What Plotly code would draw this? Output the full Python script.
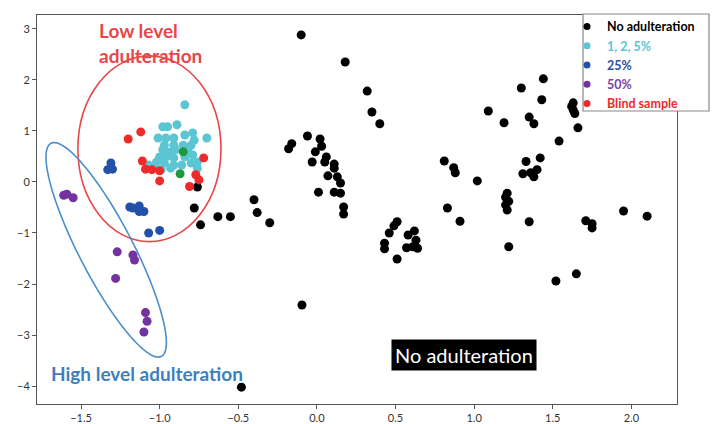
import numpy as np
import plotly.graph_objects as go

# ---------------- data ----------------
none_x = [-0.76, -0.78, -0.74, -0.63, -0.55, -0.40, -0.38, -0.30, -0.48, -0.095,
          -0.10, 0.18, 0.32, 0.35, 0.40,
          -0.06, -0.16, -0.18, 0.02, 0.03, -0.01, -0.03, 0.06, 0.05, 0.11, 0.11, 0.07, 0.13, 0.15, 0.01, 0.11, 0.15, 0.17, 0.17,
          0.51, 0.49, 0.46, 0.43, 0.43, 0.58, 0.62, 0.63, 0.57, 0.61, 0.64, 0.51,
          0.81, 0.87, 0.88, 1.02, 0.83, 0.91,
          1.44, 1.30, 1.43, 1.63, 1.62, 1.63, 1.64, 1.66, 1.09, 1.19, 1.35, 1.38, 1.54,
          1.33, 1.42, 1.31, 1.36, 1.38, 1.40,
          1.21, 1.20, 1.22, 1.20, 1.21,
          1.35, 1.22, 1.52, 1.65,
          1.95, 2.10, 1.71, 1.75, 1.75]
none_y = [-0.10, -0.51, -0.84, -0.68, -0.68, -0.35, -0.60, -0.80, -4.02, -2.41,
          2.88, 2.35, 1.78, 1.37, 1.14,
          0.90, 0.75, 0.65, 0.84, 0.70, 0.59, 0.39, 0.49, 0.39, 0.35, 0.27, 0.12, 0.10, -0.02, -0.20, -0.20, -0.22, -0.49, -0.63,
          -0.78, -0.86, -1.00, -1.20, -1.31, -1.04, -0.96, -1.14, -1.29, -1.27, -1.30, -1.51,
          0.41, 0.28, 0.18, 0.02, -0.51, -0.77,
          2.02, 1.84, 1.61, 1.55, 1.48, 1.41, 1.34, 1.06, 1.39, 1.16, 1.27, 1.14, 0.80,
          0.40, 0.47, 0.16, 0.18, 0.10, 0.24,
          -0.22, -0.30, -0.38, -0.45, -0.55,
          -0.78, -1.27, -1.94, -1.80,
          -0.57, -0.67, -0.76, -0.82, -0.90]

low_x = [-0.84, -0.98, -0.95, -0.89, -1.01, -0.96, -0.91, -0.84, -0.79, -0.70, -0.78,
         -0.97, -0.91, -0.85, -0.80, -0.98, -0.94, -0.90, -0.82, -1.00, -0.96, -0.91,
         -0.84, -0.79, -1.02, -0.97, -0.91, -0.86, -0.80, -0.76, -1.04, -0.99, -0.93,
         -0.76, -1.07]
low_y = [1.51, 1.08, 1.08, 1.12, 0.86, 0.86, 0.86, 0.92, 0.96, 0.86, 0.82,
         0.72, 0.72, 0.72, 0.72, 0.63, 0.58, 0.63, 0.63, 0.49, 0.49, 0.47,
         0.49, 0.53, 0.39, 0.37, 0.33, 0.33, 0.37, 0.39, 0.29, 0.24, 0.27,
         0.27, 0.33]

p25_x = [-1.31, -1.33, -1.30, -1.19, -1.17, -1.13, -1.10, -1.13, -1.07, -1.00]
p25_y = [0.37, 0.24, 0.25, -0.49, -0.51, -0.47, -0.58, -0.58, -1.00, -0.95]

p50_x = [-1.59, -1.55, -1.61, -1.27, -1.17, -1.16, -1.28, -1.09, -1.08, -1.10]
p50_y = [-0.24, -0.31, -0.26, -1.37, -1.43, -1.53, -1.89, -2.56, -2.73, -2.94]

blind_x = [-1.12, -1.20, -1.11, -1.09, -1.05, -1.00, -1.00, -0.72, -0.77, -0.75, -0.81]
blind_y = [0.98, 0.84, 0.41, 0.25, 0.24, 0.22, 0.02, 0.47, 0.14, 0.04, -0.09]

green_x = [-0.85, -0.87]
green_y = [0.59, 0.16]

series_names = ["No adulteration", "1, 2, 5%", "25%", "50%", "Blind sample"]

x_ticks = [-1.5, -1.0, -0.5, 0.0, 0.5, 1.0, 1.5, 2.0]
y_ticks = [-4, -3, -2, -1, 0, 1, 2, 3]

# ---------------- layout constants ----------------
W, H = 712, 424
ML, MR, MT, MB = 37, 35, 15, 20
XR = [-1.78, 2.29]
YR = [-4.35, 3.27]
PW, PH = W - ML - MR, H - MT - MB
PX_X = PW / (XR[1] - XR[0])
PX_Y = PH / (YR[1] - YR[0])

C_BLACK = "#000000"
C_CYAN = "#5bc5d3"
C_BLUE = "#2350a8"
C_PURPLE = "#7232a0"
C_RED = "#ee2a2a"
C_GREEN = "#1f9a3a"
TXT_COLORS = ["#000000", "#5bc5d3", "#2f4fa0", "#7a3fa8", "#ee2a2a"]

FONT = "Lato, 'Open Sans', sans-serif"

fig = go.Figure()

data_sets = [(none_x, none_y, C_BLACK), (low_x, low_y, C_CYAN), (p25_x, p25_y, C_BLUE),
             (p50_x, p50_y, C_PURPLE), (blind_x, blind_y, C_RED), (green_x, green_y, C_GREEN)]

for x, y, c in data_sets:
    fig.add_trace(go.Scatter(x=x, y=y, mode="markers", showlegend=False, hoverinfo="skip",
                             marker=dict(color=c, size=9, line=dict(width=0))))

# legend-only entries (smaller symbols, coloured text)
for (x, y, c), nm, tc in zip(data_sets[:5], series_names, TXT_COLORS):
    fig.add_trace(go.Scatter(x=[None], y=[None], mode="markers", showlegend=True,
                             name=f"<b><span style='color:{tc}'>{nm}</span></b>",
                             marker=dict(color=c, size=7, line=dict(width=0))))

# blue tilted ellipse (high level)
cx, cy = -1.34, -1.33
a, b, th = 120, 27, np.deg2rad(62.6)
t = np.linspace(0, 2 * np.pi, 120)
dpx = a * np.cos(t) * np.cos(th) - b * np.sin(t) * np.sin(th)
dpy = a * np.cos(t) * np.sin(th) + b * np.sin(t) * np.cos(th)
ex = cx + dpx / PX_X
ey = cy - dpy / PX_Y
path = "M " + " L ".join(f"{xx:.4f},{yy:.4f}" for xx, yy in zip(ex, ey)) + " Z"

shapes = [
    dict(type="circle", xref="x", yref="y", x0=-1.52, x1=-0.61, y0=-1.17, y1=2.47,
         line=dict(color="#e8474a", width=1.6)),
    dict(type="path", xref="x", yref="y", path=path,
         line=dict(color="#4a8fca", width=1.6)),
    # legend frame
    dict(type="rect", xref="paper", yref="paper",
         x0=(583 - ML) / PW, x1=(709 - ML) / PW,
         y0=(H - MB - 111) / PH, y1=(H - MB - 14) / PH,
         line=dict(color="#888888", width=1.2), fillcolor="white", layer="above"),
]

annotations = [
    dict(x=-1.40, y=3.24, xref="x", yref="y", xanchor="left", yanchor="top",
         text="<b>Low level<br>adulteration</b>", showarrow=False, align="left",
         font=dict(family=FONT, size=19, color="#e8474a")),
    dict(x=-1.705, y=-3.75, xref="x", yref="y", xanchor="left", yanchor="middle",
         text="<b>High level adulteration</b>", showarrow=False,
         font=dict(family=FONT, size=19, color="#3d80c0")),
    dict(x=0.935, y=-3.39, xref="x", yref="y", xanchor="center", yanchor="middle",
         text="No adulteration", showarrow=False, bgcolor="black", borderpad=3,
         font=dict(family=FONT, size=20, color="white")),
]

axis_common = dict(showgrid=False, zeroline=False, showline=True, mirror=True,
                   linecolor="#555555", linewidth=1, ticks="outside", ticklen=4,
                   tickcolor="#555555", automargin=False,
                   tickfont=dict(family=FONT, size=11, color="#333333"))

fig.update_layout(
    width=W, height=H,
    margin=dict(l=ML, r=MR, t=MT, b=MB, pad=0, autoexpand=False),
    paper_bgcolor="white", plot_bgcolor="white",
    xaxis=dict(range=XR, tickvals=x_ticks, ticktext=[f"{v:.1f}".replace("-", "−") for v in x_ticks], **axis_common),
    yaxis=dict(range=YR, tickvals=y_ticks, ticktext=[str(v).replace("-", "−") for v in y_ticks], **axis_common),
    shapes=shapes,
    annotations=annotations,
    legend=dict(x=(567 - ML) / PW, y=1.008, xanchor="left", yanchor="top",
                bgcolor="rgba(0,0,0,0)", borderwidth=0, tracegroupgap=0,
                font=dict(family=FONT, size=12.5), itemsizing="trace"),
    font=dict(family=FONT),
    showlegend=True,
)

fig.write_html("out.html", config={"displayModeBar": False},
               post_script="document.body.style.margin='0px';document.body.style.padding='0px';")
